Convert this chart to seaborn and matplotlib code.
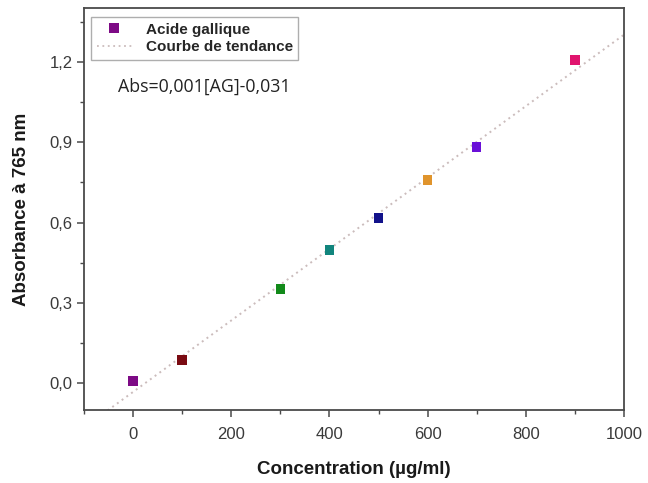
import numpy as np
import pandas as pd
import matplotlib
matplotlib.use("Agg")
import matplotlib.pyplot as plt
from matplotlib.lines import Line2D
from matplotlib.ticker import MultipleLocator, FuncFormatter
import seaborn as sns

# Calibration data: gallic acid standards
concentration = [0, 100, 300, 400, 500, 600, 700, 900]          # µg/ml
absorbance = [0.008, 0.087, 0.352, 0.497, 0.617, 0.759, 0.882, 1.207]  # at 765 nm
point_colors = ["#7d0a85", "#7a0b12", "#128a1a", "#11857d", "#12128a",
                "#e0942c", "#6a10d8", "#e0146e"]

equation = "Abs=0,001[AG]-0,031"
legend_labels = ["Acide gallique", "Courbe de tendance"]

df = pd.DataFrame({"conc": concentration, "abs": absorbance,
                   "std": [str(c) for c in concentration]})

sns.set_style("ticks")
plt.rcParams["font.family"] = ["Liberation Sans", "DejaVu Sans"]

fig = plt.figure(figsize=(6.48, 4.83), dpi=100)
ax = fig.add_axes([0.1296, 0.151, 0.8334, 0.832])
ax.set_xlim(-100, 1000)
ax.set_ylim(-0.1, 1.4)

trend_color = "#cbbcbc"
sns.regplot(data=df, x="conc", y="abs", ax=ax, scatter=False, ci=None,
            truncate=False,
            line_kws=dict(color=trend_color, linestyle=(0, (1, 2)), linewidth=1.4, zorder=1))

sns.scatterplot(data=df, x="conc", y="abs", hue="std", palette=point_colors,
                marker="s", s=46, edgecolor="none", legend=False, ax=ax, zorder=3)

ax.set_xlim(-100, 1000)
ax.set_ylim(-0.1, 1.4)

ax.xaxis.set_major_locator(MultipleLocator(200))
ax.xaxis.set_minor_locator(MultipleLocator(100))
ax.yaxis.set_major_locator(MultipleLocator(0.3))
ax.yaxis.set_minor_locator(MultipleLocator(0.15))
ax.yaxis.set_major_formatter(FuncFormatter(lambda v, p: f"{v:.1f}".replace(".", ",").replace("-0,0", "0,0")))
ax.xaxis.set_major_formatter(FuncFormatter(lambda v, p: f"{int(round(v))}"))

spine_color = "#4a4a4a"
for s in ax.spines.values():
    s.set_color(spine_color)
    s.set_linewidth(1.3)
    s.set_visible(True)
ax.tick_params(which="major", direction="out", length=5, width=1.1,
               color=spine_color, labelsize=12, labelcolor="#3a3a3a")
ax.tick_params(axis="y", which="major", pad=3)
ax.tick_params(axis="x", which="major", pad=7)
ax.tick_params(which="minor", direction="out", length=3, width=1.0, color=spine_color)

ax.set_xlabel("Concentration (µg/ml)", fontsize=13.5, fontweight="bold",
              color="#1a1a1a", labelpad=14)
ax.set_ylabel("Absorbance à 765 nm", fontsize=13.5, fontweight="bold",
              color="#1a1a1a", labelpad=14)

handles = [
    Line2D([], [], marker="s", linestyle="none", color=point_colors[0],
           markersize=6.5, markeredgewidth=0),
    Line2D([], [], color=trend_color, linestyle=(0, (1, 2)), linewidth=1.3),
]
leg = ax.legend(handles, legend_labels, loc="upper left",
                bbox_to_anchor=(0.008, 0.985), frameon=True, fancybox=False,
                prop=dict(family=["Liberation Sans", "DejaVu Sans"], weight="bold", size=11),
                handlelength=2.3, handletextpad=0.9, borderpad=0.35,
                labelspacing=0.25, borderaxespad=0.2)
leg.get_frame().set_edgecolor("#9a9a9a")
leg.get_frame().set_linewidth(1.0)

ax.text(-31, 1.105, equation, fontsize=12.8, color="#222222",
        family=["Open Sans", "DejaVu Sans"], va="center", ha="left")

fig.savefig("out.png", dpi=100)
